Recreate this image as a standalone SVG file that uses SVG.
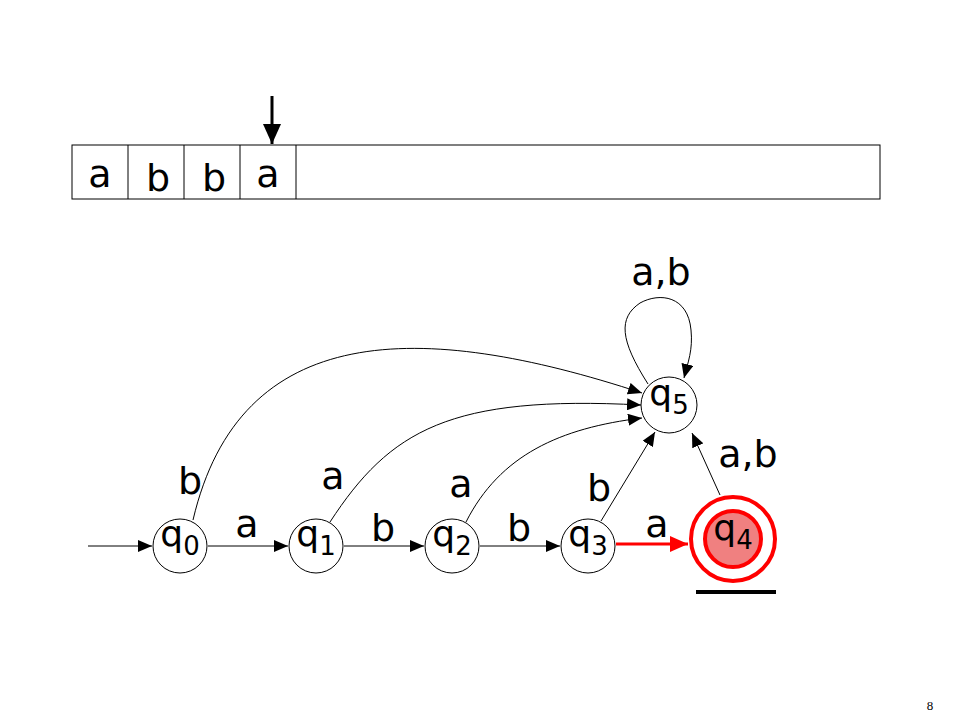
<svg xmlns="http://www.w3.org/2000/svg" width="960" height="720" viewBox="0 0 960 720">
<defs>
<style>
.t{font-family:"DejaVu Sans","Noto Sans",sans-serif;font-size:38px;fill:#000;text-anchor:middle}
.q{font-family:"DejaVu Sans","Noto Sans",sans-serif;font-size:36px;fill:#000;text-anchor:middle}
.st{fill:#fff;stroke:#000;stroke-width:1}
.e{fill:none;stroke:#000;stroke-width:1}
.cell{fill:#fff;stroke:#000;stroke-width:1}
</style>
<marker id="ah" viewBox="0 0 14 12" refX="14" refY="6" markerWidth="14" markerHeight="12" markerUnits="userSpaceOnUse" orient="auto">
<path d="M0,0 L14,6 L0,12 z" fill="#000"/>
</marker>
<marker id="ahr" viewBox="0 0 18 16" refX="18" refY="8" markerWidth="18" markerHeight="16" markerUnits="userSpaceOnUse" orient="auto">
<path d="M0,0 L18,8 L0,16 z" fill="#f00"/>
</marker>
<marker id="ahb" viewBox="0 0 20 18" refX="20" refY="9" markerWidth="20" markerHeight="18" markerUnits="userSpaceOnUse" orient="auto">
<path d="M0,0 L20,9 L0,18 z" fill="#000"/>
</marker>
</defs>
<rect width="960" height="720" fill="#fff"/>

<g id="tape">
<rect class="cell" x="72" y="145" width="808" height="54"/>
<line x1="128" y1="145" x2="128" y2="199" stroke="#000"/>
<line x1="184" y1="145" x2="184" y2="199" stroke="#000"/>
<line x1="240" y1="145" x2="240" y2="199" stroke="#000"/>
<line x1="296" y1="145" x2="296" y2="199" stroke="#000"/>
<text class="t" x="100" y="187">a</text>
<text class="t" x="158" y="191">b</text>
<text class="t" x="214" y="191">b</text>
<text class="t" x="268" y="187">a</text>
</g>
<g id="head">
<line x1="272" y1="96" x2="272" y2="144" stroke="#000" stroke-width="3" marker-end="url(#ahb)"/>
</g>

<g id="connectors">
<line class="e" x1="88" y1="546" x2="152" y2="546" marker-end="url(#ah)"/>
<line class="e" x1="208" y1="546" x2="288" y2="546" marker-end="url(#ah)"/>
<line class="e" x1="344" y1="546" x2="424" y2="546" marker-end="url(#ah)"/>
<line class="e" x1="480" y1="546" x2="560" y2="546" marker-end="url(#ah)"/>
<line x1="616" y1="544" x2="688" y2="544" stroke="#f00" stroke-width="3" marker-end="url(#ahr)"/>
<path class="e" d="M193,520 C240,320 420,320 642,393" marker-end="url(#ah)"/>
<path class="e" d="M330,522 C390,430 450,395 641,405" marker-end="url(#ah)"/>
<path class="e" d="M466,522 C500,455 560,428 642,418" marker-end="url(#ah)"/>
<line class="e" x1="601" y1="521" x2="655" y2="432" marker-end="url(#ah)"/>
<line class="e" x1="720" y1="495" x2="692" y2="433" marker-end="url(#ah)"/>
<path class="e" d="M648,384 C620,340 618,318 640,303 C660,292 688,296 691,330 C693,350 688,362 684,378" marker-end="url(#ah)"/>
</g>

<g id="labels">
<text class="t" x="247" y="537">a</text>
<text class="t" x="383" y="541">b</text>
<text class="t" x="519" y="541">b</text>
<text class="t" x="657" y="537">a</text>
<text class="t" x="190" y="494">b</text>
<text class="t" x="333" y="489">a</text>
<text class="t" x="461" y="497">a</text>
<text class="t" x="599" y="501">b</text>
<text class="t" x="748" y="467">a,b</text>
<text class="t" x="661" y="285">a,b</text>
</g>

<g id="q0"><circle class="st" cx="180" cy="546" r="27"/><text class="q" x="180" y="546">q<tspan font-size="26" dy="9">0</tspan></text></g>
<g id="q1"><circle class="st" cx="316" cy="546" r="27"/><text class="q" x="316" y="546">q<tspan font-size="26" dy="9">1</tspan></text></g>
<g id="q2"><circle class="st" cx="452" cy="546" r="27"/><text class="q" x="452" y="546">q<tspan font-size="26" dy="9">2</tspan></text></g>
<g id="q3"><circle class="st" cx="588" cy="546" r="27"/><text class="q" x="588" y="546">q<tspan font-size="26" dy="9">3</tspan></text></g>
<g id="q4">
<circle cx="733" cy="539" r="42" fill="#fff" stroke="#f00" stroke-width="4"/>
<circle cx="733" cy="539" r="28" fill="#f08080" stroke="#f00" stroke-width="4"/>
<text class="q" x="733" y="540">q<tspan font-size="26" dy="9">4</tspan></text>
<line x1="696" y1="592" x2="776" y2="592" stroke="#000" stroke-width="4"/>
</g>
<g id="q5"><circle class="st" cx="669" cy="405" r="28"/><text class="q" x="669" y="405">q<tspan font-size="26" dy="9">5</tspan></text></g>

<text x="930" y="710" font-family="Liberation Serif,serif" font-size="13" fill="#000" text-anchor="middle">8</text>
</svg>
